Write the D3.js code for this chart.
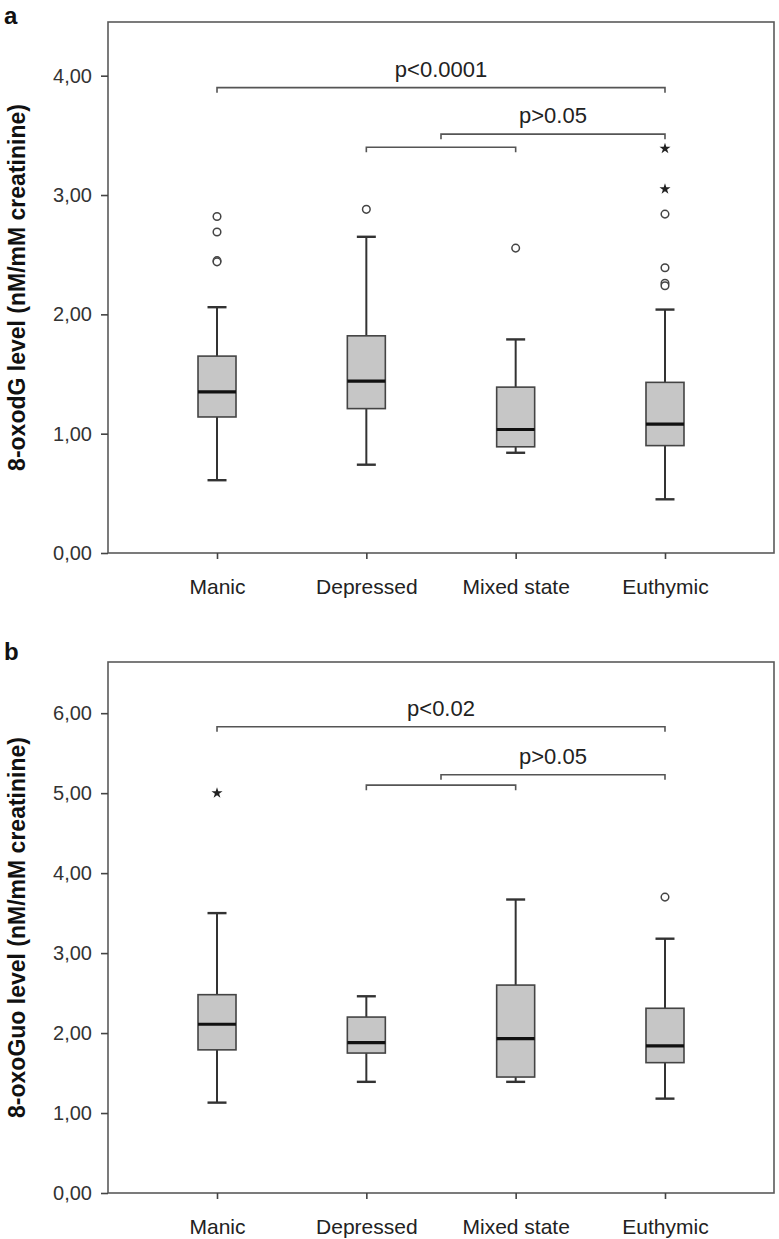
<!DOCTYPE html>
<html><head><meta charset="utf-8">
<script src="https://cdn.jsdelivr.net/npm/d3@7"></script>
<style>body{margin:0;background:#fff}</style>
</head><body>
<svg id="c" width="779" height="1239"></svg>
<script>
const categories = ["Manic","Depressed","Mixed state","Euthymic"];

// Panel a: 8-oxodG
const aLow    = [0.61, 0.74, 0.84, 0.45];
const aQ1     = [1.14, 1.21, 0.89, 0.90];
const aMedian = [1.35, 1.44, 1.035, 1.08];
const aQ3     = [1.65, 1.82, 1.39, 1.43];
const aHigh   = [2.06, 2.65, 1.79, 2.04];
const aCircles = [[2.82, 2.69, 2.45, 2.44], [2.88], [2.555], [2.84, 2.39, 2.26, 2.24]];
const aStars   = [[], [], [], [3.39, 3.05]];
const aTicks = [0, 1, 2, 3, 4];
const aMax = 4.45;
const aBrackets = [
  {from: 0, to: 3, level: 3.90, label: "p<0.0001"},
  {from: 1, to: 2, level: 3.40, label: ""},
  {from: 1.5, to: 3, level: 3.51, label: "p>0.05"}
];

// Panel b: 8-oxoGuo
const bLow    = [1.13, 1.39, 1.39, 1.18];
const bQ1     = [1.79, 1.75, 1.45, 1.63];
const bMedian = [2.11, 1.88, 1.93, 1.84];
const bQ3     = [2.48, 2.20, 2.60, 2.31];
const bHigh   = [3.50, 2.46, 3.67, 3.18];
const bCircles = [[], [], [], [3.70]];
const bStars   = [[5.0], [], [], []];
const bTicks = [0, 1, 2, 3, 4, 5, 6];
const bMax = 6.64;
const bBrackets = [
  {from: 0, to: 3, level: 5.83, label: "p<0.02"},
  {from: 1, to: 2, level: 5.10, label: ""},
  {from: 1.5, to: 3, level: 5.23, label: "p>0.05"}
];

const svg = d3.select("#c");
const left = 108, right = 774;
const font = "'Liberation Sans', Arial, sans-serif";

function panel(opt) {
  const {top, bottom, max, ticks, low, q1, med, q3, high, circles, stars, brackets, title, letter, letterY} = opt;
  const g = svg.append("g");
  const x = d3.scalePoint().domain(categories).range([left, right]).padding(0.73);
  const y = d3.scaleLinear().domain([0, max]).range([bottom, top]);
  const xi = i => {
    const f = Math.floor(i), c = Math.ceil(i);
    return x(categories[f]) + (x(categories[c]) - x(categories[f])) * (i - f);
  };

  // frame
  g.append("rect").attr("x", left).attr("y", top).attr("width", right - left).attr("height", bottom - top)
    .attr("fill", "none").attr("stroke", "#5a5a5a").attr("stroke-width", 1.6);

  // y axis
  const ya = g.append("g").attr("transform", `translate(${left},0)`)
    .call(d3.axisLeft(y).tickValues(ticks).tickSize(7).tickPadding(9)
      .tickFormat(d => d3.format(".2f")(d).replace(".", ",")));
  ya.select(".domain").remove();
  ya.selectAll(".tick line").attr("stroke", "#444").attr("stroke-width", 1.6);
  ya.selectAll(".tick text").attr("font-family", font).attr("font-size", 20).attr("fill", "#333");

  // x axis
  const xa = g.append("g").attr("transform", `translate(0,${bottom})`)
    .call(d3.axisBottom(x).tickSize(6).tickPadding(20));
  xa.select(".domain").remove();
  xa.selectAll(".tick line").attr("stroke", "#444").attr("stroke-width", 1.6);
  xa.selectAll(".tick text").attr("font-family", font).attr("font-size", 21).attr("fill", "#222");

  const bw = 38, cw = 19;
  const data = categories.map((c, i) => ({c, lo: low[i], q1: q1[i], md: med[i], q3: q3[i], hi: high[i]}));
  const bx = g.selectAll(".bx").data(data).enter().append("g");
  // whiskers
  bx.append("line").attr("x1", d => x(d.c)).attr("x2", d => x(d.c))
    .attr("y1", d => y(d.hi)).attr("y2", d => y(d.q3)).attr("stroke", "#333").attr("stroke-width", 2);
  bx.append("line").attr("x1", d => x(d.c)).attr("x2", d => x(d.c))
    .attr("y1", d => y(d.q1)).attr("y2", d => y(d.lo)).attr("stroke", "#333").attr("stroke-width", 2);
  bx.append("line").attr("x1", d => x(d.c) - cw / 2).attr("x2", d => x(d.c) + cw / 2)
    .attr("y1", d => y(d.hi)).attr("y2", d => y(d.hi)).attr("stroke", "#333").attr("stroke-width", 2.4);
  bx.append("line").attr("x1", d => x(d.c) - cw / 2).attr("x2", d => x(d.c) + cw / 2)
    .attr("y1", d => y(d.lo)).attr("y2", d => y(d.lo)).attr("stroke", "#333").attr("stroke-width", 2.4);
  // box
  bx.append("rect").attr("x", d => x(d.c) - bw / 2).attr("width", bw)
    .attr("y", d => y(d.q3)).attr("height", d => y(d.q1) - y(d.q3))
    .attr("fill", "#c6c6c6").attr("stroke", "#444").attr("stroke-width", 1.6);
  // median
  bx.append("line").attr("x1", d => x(d.c) - bw / 2).attr("x2", d => x(d.c) + bw / 2)
    .attr("y1", d => y(d.md)).attr("y2", d => y(d.md)).attr("stroke", "#111").attr("stroke-width", 3.2);

  // outliers
  const circ = [];
  circles.forEach((arr, i) => arr.forEach(v => circ.push({c: categories[i], v})));
  g.selectAll(".oc").data(circ).enter().append("circle")
    .attr("cx", d => x(d.c)).attr("cy", d => y(d.v)).attr("r", 3.8)
    .attr("fill", "#fff").attr("stroke", "#444").attr("stroke-width", 1.5);
  const st = [];
  stars.forEach((arr, i) => arr.forEach(v => st.push({c: categories[i], v})));
  g.selectAll(".os").data(st).enter().append("path")
    .attr("d", d3.symbol().type(d3.symbolStar).size(38))
    .attr("transform", d => `translate(${x(d.c)},${y(d.v)})`).attr("fill", "#222");

  // brackets
  brackets.forEach(b => {
    const x1 = xi(b.from), x2 = xi(b.to), yy = y(b.level);
    g.append("path").attr("d", `M${x1},${yy + 5}V${yy}H${x2}V${yy + 5}`)
      .attr("fill", "none").attr("stroke", "#555").attr("stroke-width", 1.6);
    if (b.label) {
      g.append("text").attr("x", (x1 + x2) / 2).attr("y", yy - 11).attr("text-anchor", "middle")
        .attr("font-family", font).attr("font-size", 22).attr("fill", "#222").text(b.label);
    }
  });

  // y title
  g.append("text").attr("transform", `translate(25,${(top + bottom) / 2}) rotate(-90)`)
    .attr("text-anchor", "middle").attr("font-family", font).attr("font-weight", "bold")
    .attr("font-size", 23).attr("fill", "#111").text(title);
  // panel letter
  g.append("text").attr("x", 4).attr("y", letterY).attr("font-family", font).attr("font-weight", "bold")
    .attr("font-size", 24).attr("fill", "#111").text(letter);
}

panel({top: 22, bottom: 553, max: aMax, ticks: aTicks, low: aLow, q1: aQ1, med: aMedian, q3: aQ3, high: aHigh,
  circles: aCircles, stars: aStars, brackets: aBrackets, title: "8-oxodG level (nM/mM creatinine)", letter: "a", letterY: 24});
panel({top: 662, bottom: 1193, max: bMax, ticks: bTicks, low: bLow, q1: bQ1, med: bMedian, q3: bQ3, high: bHigh,
  circles: bCircles, stars: bStars, brackets: bBrackets, title: "8-oxoGuo level (nM/mM creatinine)", letter: "b", letterY: 660});
</script>
</body></html>
